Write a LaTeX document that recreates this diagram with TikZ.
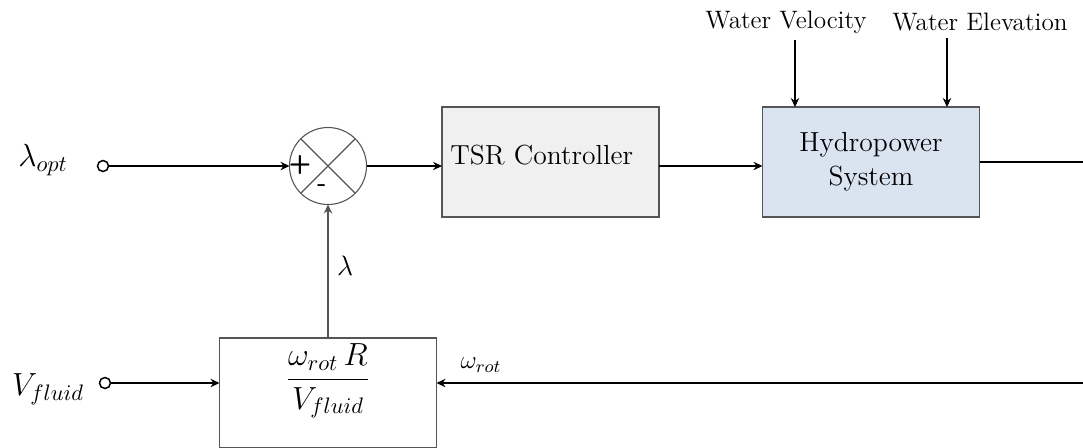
\RequirePackage{fix-cm}
\documentclass[tikz,border=0pt]{standalone}
\usepackage{amsmath}
\usepackage{tikz}
\usetikzlibrary{arrows.meta,positioning,calc}

\definecolor{tsrgray}{RGB}{240,240,240}
\definecolor{hydroblue}{RGB}{218,227,240}
\definecolor{edgegray}{RGB}{85,85,85}

\tikzset{
  blk/.style={draw=edgegray, line width=0.8pt, minimum width=108.5pt, minimum height=55pt, inner sep=0pt, outer sep=0pt},
  term/.style={circle, draw=black, line width=0.75pt, minimum size=5.5pt, inner sep=0pt, fill=white},
  sumj/.style={circle, draw=edgegray, line width=0.55pt, minimum size=38.5pt, inner sep=0pt, outer sep=0pt},
  conn/.style={line width=0.55pt, -{Stealth[length=4.5pt,width=4.2pt]}},
  wire/.style={line width=0.55pt},
  boxtxt/.style={inner sep=0pt, font=\fontsize{13.8}{17}\selectfont},
  wtxt/.style={font=\fontsize{12.6}{15}\selectfont},
  mathtxt/.style={inner sep=0pt, font=\fontsize{16}{19}\selectfont},
  sgn/.style={inner sep=0pt, font=\sffamily\bfseries\fontsize{13}{15}\selectfont}
}

\begin{document}
\begin{tikzpicture}[x=0.5pt,y=0.5pt,yscale=-1,xscale=1]
\useasboundingbox (0,0) rectangle (1083,447);
\clip (0,0) rectangle (1083,447);

%Shape: Summing junction
\node[sumj] (sum) at (328,166) {};
\draw[edgegray, line width=0.55pt] (sum.north west) -- (sum.south east) (sum.north east) -- (sum.south west);
\node[sgn] (plus) at (300,165) {+};
\node[sgn] (minus) at (322,188) {-};

%Shape: Rectangle (TSR controller)
\node[blk, fill=tsrgray] (tsr) at (550.5,162) {};
\node[boxtxt, anchor=west] (tsrlbl) at (450,155) {TSR Controller};

%Shape: Rectangle (hydropower system)
\node[blk, fill=hydroblue, align=center, font=\fontsize{13.8}{17}\selectfont] (hydro) at (871,162) {Hydropower\\System};

%Shape: Rectangle (feedback)
\node[blk] (fb) at (328,393) {};
\node[mathtxt] (fbfrac) at (328,381) {$\dfrac{\omega_{rot}\,R}{V_{fluid}}$};

%Text: inputs
\node[mathtxt] (lopt) at (43,160) {$\lambda_{opt}$};
\node[term] (lin) at (103,166) {};
\node[mathtxt] (vfl) at (48,389) {$V_{fluid}$};
\node[term] (vin) at (105,383) {};

\node[wtxt] (wvel) at (786,22) {Water Velocity};
\node[wtxt] (welev) at (980,22) {Water Elevation};
\coordinate (velin) at ($(hydro.north)+(-76,0)$);
\coordinate (elevin) at ($(hydro.north)+(76,0)$);

%Straight Lines
\draw[conn] (lin) -- (sum.west);
\draw[conn] (sum.east) -- (sum.east -| tsr.west);
\draw[conn] (tsr.east |- sum.east) -- (hydro.west |- sum.east);
\draw[conn] (wvel.south -| velin) -- (velin);
\draw[conn] (welev.south -| elevin) -- (elevin);
\draw[wire] (hydro.east) -- ++(120,0);

\draw[conn] (vin) -- (vin -| fb.west);
\coordinate (wrot) at (1095,383);
\draw[conn] (wrot) -- (wrot -| fb.east);
\node[font=\fontsize{12.5}{15}\selectfont, inner sep=0pt] (wrotlbl) at (481,365) {$\omega_{rot}$};

\draw[conn, edgegray] (fb.north) -- (sum.south);
\node[font=\fontsize{14}{17}\selectfont, inner sep=0pt] (lam) at (345,266) {$\lambda$};

\end{tikzpicture}
\end{document}
